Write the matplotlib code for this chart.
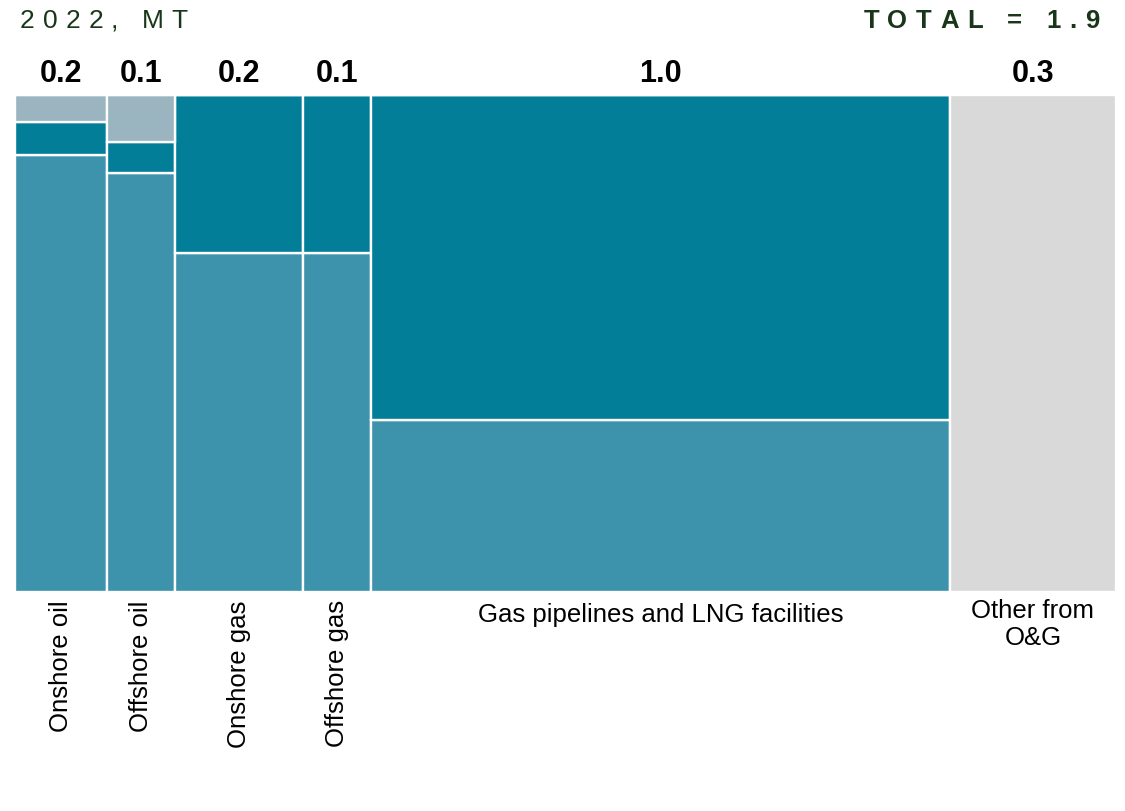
import matplotlib.pyplot as plt
import numpy as np

# column totals (Mt) and segment shares within each column
CATEGORIES = ["Onshore oil", "Offshore oil", "Onshore gas", "Offshore gas",
              "Gas pipelines and LNG facilities", "Other from\nO&G"]
TOTALS = [0.16, 0.117, 0.22, 0.118, 1.0, 0.287]
SHARE_LIGHT = [0.879, 0.844, 0.683, 0.683, 0.346, 0.0]
SHARE_DARK = [0.066, 0.062, 0.317, 0.317, 0.654, 0.0]
SHARE_GRAY = [0.055, 0.094, 0.0, 0.0, 0.0, 0.0]
SHARE_OTHER = [0.0, 0.0, 0.0, 0.0, 0.0, 1.0]
VERTICAL_LABEL = [True, True, True, True, False, False]

LIGHT = "#3D93AB"
DARK = "#037E99"
GRAY = "#9AB5BF"
OTHER = "#D9D9D9"
HEAD = "#1A361A"

plt.rcParams["font.family"] = ["Liberation Sans", "DejaVu Sans"]

W, H = 1125, 811
fig = plt.figure(figsize=(W / 100, H / 100), dpi=100)
ax = fig.add_axes([14.8 / W, 1 - 592 / H, (1116 - 14.8) / W, (592 - 95) / H])

widths = np.array(TOTALS)
lefts = np.concatenate([[0], np.cumsum(widths)[:-1]])
centers = lefts + widths / 2

bottom = np.zeros(len(widths))
for shares, color in [(SHARE_LIGHT, LIGHT), (SHARE_DARK, DARK),
                      (SHARE_GRAY, GRAY), (SHARE_OTHER, OTHER)]:
    shares = np.array(shares)
    ax.bar(lefts, shares, width=widths, bottom=bottom, align="edge",
           color=color, edgecolor="white", linewidth=1.7)
    bottom += shares

ax.set_xlim(0, widths.sum())
ax.set_ylim(0, 1)
ax.axis("off")

trans = ax.get_xaxis_transform()
for x, total, label, vert in zip(centers, TOTALS, CATEGORIES, VERTICAL_LABEL):
    ax.annotate(f"{total:.1f}", (x, 1), xytext=(0, 9.4), textcoords="offset points",
                xycoords=trans, ha="center", va="baseline", fontsize=22,
                fontweight="bold", color="black")
    if vert:
        ax.annotate(label, (x, 0), xytext=(0, -6), textcoords="offset points",
                    xycoords=trans, ha="center", va="top", rotation=90,
                    fontsize=18.5, color="black")
    elif "\n" in label:
        ax.annotate(label, (x, 0), xytext=(0, -5), textcoords="offset points",
                    xycoords=trans, ha="center", va="top", fontsize=18.5,
                    color="black", linespacing=1.15)
    else:
        ax.annotate(label, (x, 0), xytext=(0, -8), textcoords="offset points",
                    xycoords=trans, ha="center", va="top", fontsize=18.5,
                    color="black")


def spaced_text(s, x_px, y_px, tracking, align="left", **kw):
    """Draw letter-spaced text; x/y in pixels from top-left."""
    renderer = fig.canvas.get_renderer()
    items = []
    for ch in s:
        t = fig.text(0, 0, ch, **kw)
        w = t.get_window_extent(renderer).width if ch != " " else None
        items.append((t, ch, w))
    probe_sp = fig.text(0, 0, "a a", **kw)
    probe = fig.text(0, 0, "aa", **kw)
    sw = (probe_sp.get_window_extent(renderer).width
          - probe.get_window_extent(renderer).width)
    probe_sp.remove()
    probe.remove()
    widths_px = [w if w is not None else sw for _, _, w in items]
    total = sum(widths_px) + tracking * (len(items) - 1)
    cur = x_px - total if align == "right" else x_px
    for (t, ch, _), w in zip(items, widths_px):
        t.set_position((cur / W, 1 - y_px / H))
        t.set_va("baseline")
        cur += w + tracking


spaced_text("2022, MT", 20, 28, 8.0, fontsize=19, color=HEAD)
spaced_text("TOTAL = 1.9", 1099, 28, 8.5, align="right", fontsize=18.5,
            fontweight="bold", color=HEAD)

fig.savefig("out.png", dpi=100)
